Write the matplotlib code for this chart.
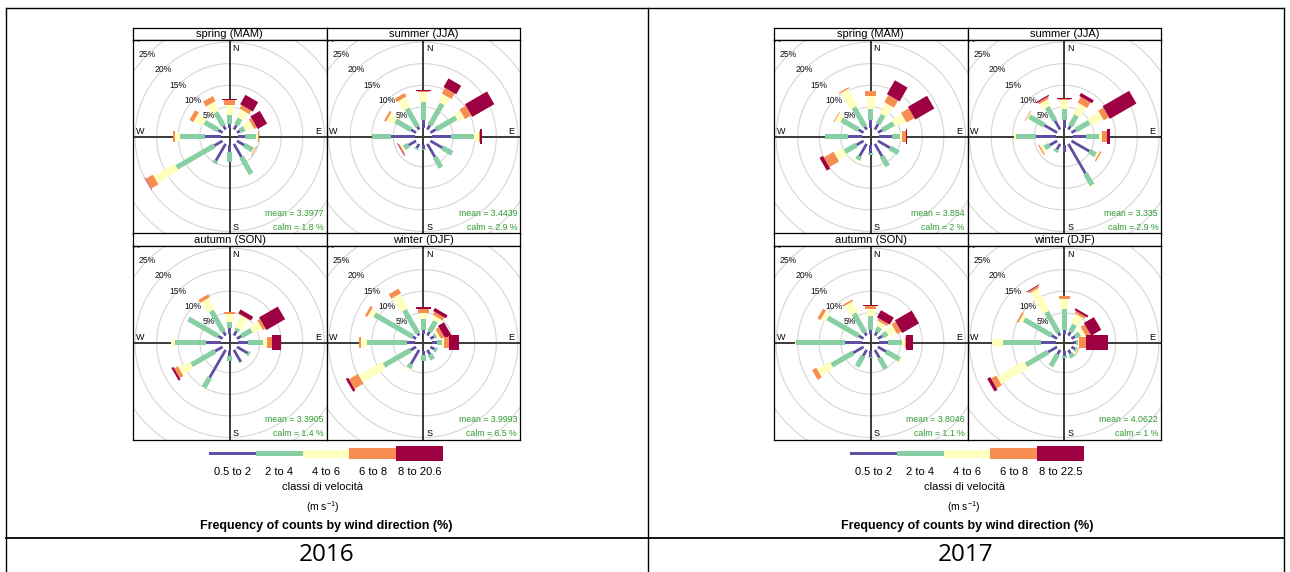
import numpy as np
import matplotlib.pyplot as plt
from matplotlib.patches import Polygon, Rectangle

plt.rcParams['font.family'] = ['Liberation Sans', 'DejaVu Sans']
plt.rcParams['mathtext.default'] = 'regular'

# wind directions (deg from north) and seasons
directions = [0, 30, 60, 90, 120, 150, 180, 210, 240, 270, 300, 330]
seasons = ['spring (MAM)', 'summer (JJA)', 'autumn (SON)', 'winter (DJF)']
class_colors = ['#5E4FA2', '#88CFA4', '#FFFFBF', '#F88D52', '#9E0142']
years = ['2016', '2017']

# cumulative frequency (%) at the end of each speed class, one row per direction
spring_2016 = [[1.0, 3.2, 5.5, 6.5, 6.9], [1.2, 2.9, 4.9, 5.8, 8.3], [0.8, 2.0, 3.9, 4.6, 7.1],
               [1.5, 4.2, 4.6, 4.8, 4.9], [2.0, 4.2, 4.5, 4.7, 4.7], [3.5, 8.0, 8.0, 8.0, 8.0],
               [1.7, 3.9, 3.9, 3.9, 3.9], [4.5, 5.2, 5.2, 5.2, 5.2], [2.2, 12.3, 17.9, 19.8, 19.9],
               [3.9, 9.6, 10.8, 11.2, 11.3], [1.2, 4.8, 7.1, 8.1, 8.1], [1.0, 4.6, 6.9, 8.2, 8.2]]
summer_2016 = [[1.9, 6.2, 8.5, 8.7, 8.9], [1.2, 6.9, 8.9, 10.4, 12.7], [1.5, 6.9, 8.5, 10.2, 16.1],
               [4.4, 9.8, 11.0, 11.3, 11.6], [3.2, 5.8, 5.8, 5.8, 5.8], [3.5, 6.3, 6.3, 6.3, 6.3],
               [0.8, 1.2, 1.2, 1.2, 1.2], [1.1, 1.4, 1.4, 1.4, 1.4], [2.0, 3.2, 3.7, 3.95, 4.1],
               [5.6, 10.0, 10.0, 10.0, 10.0], [1.4, 5.5, 7.3, 7.8, 7.8], [0.8, 5.6, 8.1, 9.0, 9.0]]
autumn_2016 = [[1.5, 2.9, 4.8, 5.2, 5.2], [1.2, 1.9, 4.9, 5.0, 6.0], [1.2, 3.9, 6.2, 6.9, 11.9],
               [2.3, 5.8, 6.7, 7.9, 10.0], [2.9, 3.4, 3.5, 3.5, 3.5], [3.2, 3.3, 3.3, 3.3, 3.3],
               [1.2, 2.2, 2.2, 2.2, 2.2], [7.4, 10.0, 10.0, 10.0, 10.0], [2.0, 8.3, 11.2, 12.2, 12.7],
               [3.5, 10.8, 11.6, 11.6, 11.6], [1.2, 9.1, 9.1, 9.1, 9.1], [1.0, 6.6, 9.5, 10.3, 10.3]]
winter_2016 = [[1.0, 3.6, 5.0, 5.9, 6.3], [1.0, 3.8, 4.8, 5.6, 6.4], [1.0, 1.5, 2.1, 3.0, 4.6],
               [1.2, 2.4, 2.9, 4.0, 6.3], [1.1, 1.7, 1.7, 1.7, 1.7], [1.2, 2.5, 2.5, 2.5, 2.5],
               [0.8, 2.2, 2.2, 2.2, 2.2], [3.8, 4.8, 5.1, 5.1, 5.1], [1.5, 8.6, 14.8, 17.2, 17.8],
               [1.8, 11.0, 12.6, 12.9, 12.9], [0.9, 11.1, 12.3, 12.9, 12.9], [0.6, 6.8, 10.6, 11.8, 11.8]]

spring_2017 = [[1.9, 4.6, 7.5, 8.6, 8.6], [1.5, 3.9, 6.6, 8.5, 12.2], [1.2, 4.2, 6.9, 9.0, 14.1],
               [2.9, 4.8, 5.2, 6.2, 6.4], [3.2, 5.5, 5.5, 5.5, 5.5], [3.3, 5.9, 5.9, 5.9, 5.9],
               [1.8, 2.3, 2.3, 2.3, 2.3], [3.3, 4.2, 4.5, 4.5, 4.5], [1.9, 5.0, 7.3, 9.9, 10.8],
               [3.3, 8.7, 8.7, 8.7, 8.7], [1.4, 5.9, 7.1, 7.3, 7.3], [0.8, 5.9, 10.3, 10.6, 10.6]]
summer_2017 = [[1.9, 4.6, 6.6, 6.9, 7.1], [1.0, 3.8, 6.5, 8.0, 8.8], [1.2, 4.8, 7.9, 9.3, 16.4],
               [3.1, 6.2, 6.9, 7.9, 8.6], [4.8, 6.5, 7.0, 7.3, 7.3], [7.9, 11.0, 11.4, 11.4, 11.4],
               [1.5, 1.7, 1.7, 1.7, 1.7], [1.5, 2.1, 2.1, 2.1, 2.1], [2.0, 3.3, 4.0, 4.3, 4.3],
               [4.6, 9.3, 9.6, 9.6, 9.6], [3.4, 7.4, 7.7, 7.9, 7.9], [2.4, 6.0, 7.5, 8.0, 8.3]]
autumn_2017 = [[1.0, 4.2, 5.8, 6.6, 6.8], [1.0, 2.2, 3.3, 3.9, 5.8], [1.2, 2.5, 4.4, 5.5, 10.0],
               [2.1, 5.2, 6.0, 6.2, 7.9], [2.2, 5.8, 6.1, 6.1, 6.1], [2.1, 5.0, 5.0, 5.0, 5.0],
               [1.3, 1.6, 1.6, 1.6, 1.6], [1.6, 4.4, 4.4, 4.4, 4.4], [2.8, 8.5, 11.9, 13.0, 13.0],
               [4.1, 15.3, 15.7, 15.7, 15.7], [1.4, 9.6, 10.8, 11.6, 11.6], [0.8, 5.9, 8.5, 8.9, 8.9]]
winter_2017 = [[1.0, 5.8, 8.1, 8.9, 8.9], [1.0, 2.9, 5.2, 5.8, 6.3], [1.0, 2.2, 3.2, 4.3, 7.0],
               [0.8, 1.2, 1.5, 3.1, 8.3], [1.0, 1.4, 1.6, 1.8, 1.8], [1.0, 2.0, 2.0, 2.0, 2.0],
               [1.2, 1.6, 1.6, 1.6, 1.6], [1.2, 4.3, 4.3, 4.3, 4.3], [2.4, 8.3, 15.5, 16.9, 17.7],
               [3.5, 12.3, 14.7, 14.7, 14.7], [1.5, 8.8, 9.6, 10.0, 10.0], [0.8, 6.3, 12.0, 12.5, 12.7]]

mean_2016 = [3.3977, 3.4439, 3.3905, 3.9993]
calm_2016 = [1.8, 2.9, 1.4, 6.5]
mean_2017 = [3.854, 3.335, 3.8046, 4.0622]
calm_2017 = [2, 2.9, 1.1, 1]
classes_2016 = ['0.5 to 2', '2 to 4', '4 to 6', '6 to 8', '8 to 20.6']
classes_2017 = ['0.5 to 2', '2 to 4', '4 to 6', '6 to 8', '8 to 22.5']

W, H = 1290, 572
fig = plt.figure(figsize=(W / 100, H / 100), dpi=100)
fig.patch.set_facecolor('white')

# full-figure axes in pixel coordinates for the table frame and keys
ax0 = fig.add_axes([0, 0, 1, 1])
ax0.set_xlim(0, W)
ax0.set_ylim(H, 0)
ax0.axis('off')


def px_axes(x0, y0, x1, y1):
    return fig.add_axes([x0 / W, 1 - y1 / H, (x1 - x0) / W, (y1 - y0) / H])


PX = 4.32          # pixels per 1 %
OFF = 1.92         # inner offset (%)
HALF = 96.75 / PX  # panel half size in %
half_w = [0.32, 0.6, 0.95, 1.3, 1.7]
grid_lines = [5, 10, 15, 20, 25, 30]


def draw_rose(ax, cum, mean, calm):
    ax.set_xlim(-HALF, HALF)
    ax.set_ylim(-HALF, HALF)
    ax.set_xticks([])
    ax.set_yticks([])
    for s in ax.spines.values():
        s.set_linewidth(0.9)
        s.set_color('black')
    th = np.linspace(0, 2 * np.pi, 361)
    a = np.deg2rad(315)
    for g in grid_lines:
        r = OFF + g
        ax.plot(r * np.sin(th), r * np.cos(th), color='#D6D6D6', lw=0.8, zorder=1)
        ax.text(r * np.sin(a), r * np.cos(a), f'{g}%', fontsize=6.2, ha='center',
                va='center', zorder=5, clip_on=True, color='#111111')
    ax.axhline(0, color='#3a3a3a', lw=1.4, zorder=2)
    ax.axvline(0, color='#3a3a3a', lw=1.4, zorder=2)
    for d, vals in zip(directions, cum):
        t = np.deg2rad(d)
        ux, uy = np.sin(t), np.cos(t)
        nx, ny = np.cos(t), -np.sin(t)
        start = 0
        for j, end in enumerate(vals):
            if end > start:
                r1, r2 = OFF + start, OFF + end
                w = half_w[j]
                pts = [(r1 * ux - w * nx, r1 * uy - w * ny), (r1 * ux + w * nx, r1 * uy + w * ny),
                       (r2 * ux + w * nx, r2 * uy + w * ny), (r2 * ux - w * nx, r2 * uy - w * ny)]
                ax.add_patch(Polygon(pts, closed=True, facecolor=class_colors[j],
                                     edgecolor='none', zorder=3))
                start = end
    k = 1 / PX
    ax.text(6 * k, HALF - 8.5 * k, 'N', fontsize=6.5, ha='center', va='center', zorder=6)
    ax.text(HALF - 8.5 * k, 5 * k, 'E', fontsize=6.5, ha='center', va='center', zorder=6)
    ax.text(6 * k, -HALF + 5.5 * k, 'S', fontsize=6.5, ha='center', va='center', zorder=6)
    ax.text(-HALF + 7 * k, 5 * k, 'W', fontsize=6.5, ha='center', va='center', zorder=6)
    ax.text(HALF - 3 * k, -HALF + 20 * k, f'mean = {mean:g}', fontsize=6.3, ha='right',
            va='center', color='#2E9B2E', zorder=6)
    ax.text(HALF - 3 * k, -HALF + 5.5 * k, f'calm = {calm:g} %', fontsize=6.3, ha='right',
            va='center', color='#2E9B2E', zorder=6)


def draw_strip(x0, y0, x1, y1, label):
    sa = px_axes(x0, y0, x1, y1)
    sa.set_xticks([])
    sa.set_yticks([])
    for s in sa.spines.values():
        s.set_linewidth(0.9)
    sa.text(0.5, 0.45, label, transform=sa.transAxes, ha='center', va='center', fontsize=8)


year_data = {
    '2016': ([spring_2016, summer_2016, autumn_2016, winter_2016], mean_2016, calm_2016, classes_2016),
    '2017': ([spring_2017, summer_2017, autumn_2017, winter_2017], mean_2017, calm_2017, classes_2017),
}
lattice_left = {'2016': 133.0, '2017': 774.0}
cell_center = {'2016': 327.0, '2017': 966.0}
pw = 193.5
strip_h = 12.5
row_top = [27.5, 233.5]

for yr in years:
    roses, means, calms, classes = year_data[yr]
    x_left = lattice_left[yr]
    for i in range(4):
        col, row = i % 2, i // 2
        x0 = x_left + col * pw
        st = row_top[row]
        draw_strip(x0, st, x0 + pw, st + strip_h, seasons[i])
        ax = px_axes(x0, st + strip_h, x0 + pw, st + strip_h + pw)
        draw_rose(ax, roses[i], means[i], calms[i])

    # colour key
    cx = (x_left + x_left + 2 * pw) / 2 - 0.5
    seg = 46.7
    bx = cx - 2.5 * seg
    for j in range(5):
        h = 2 * half_w[j] * PX
        ax0.add_patch(Rectangle((bx + j * seg, 453.7 - h / 2), seg, h,
                                facecolor=class_colors[j], edgecolor='none'))
        ax0.text(bx + (j + 0.5) * seg, 472, classes[j], fontsize=8, ha='center', va='center')
    ax0.text(cx - 3, 487, 'classi di velocità', fontsize=8, ha='center', va='center')
    ax0.text(cx - 3, 507, r'(m s$^{-1}$)', fontsize=7.5, ha='center', va='center')
    ax0.text(cx, 526, 'Frequency of counts by wind direction (%)', fontsize=9,
             fontweight='bold', ha='center', va='center')
    ax0.text(cell_center[yr], 555, yr, fontsize=17.5, ha='center', va='center',
             family=['Open Sans', 'DejaVu Sans'])

# table frame
lc = 'black'
ax0.plot([6, 1284], [7.5, 7.5], color=lc, lw=1.0)
ax0.plot([6, 1284], [538, 538], color=lc, lw=1.3)
for xv in [6, 648, 1284]:
    ax0.plot([xv, xv], [7.5, 572], color=lc, lw=1.0)

fig.savefig('out.png', dpi=100, facecolor='white')
